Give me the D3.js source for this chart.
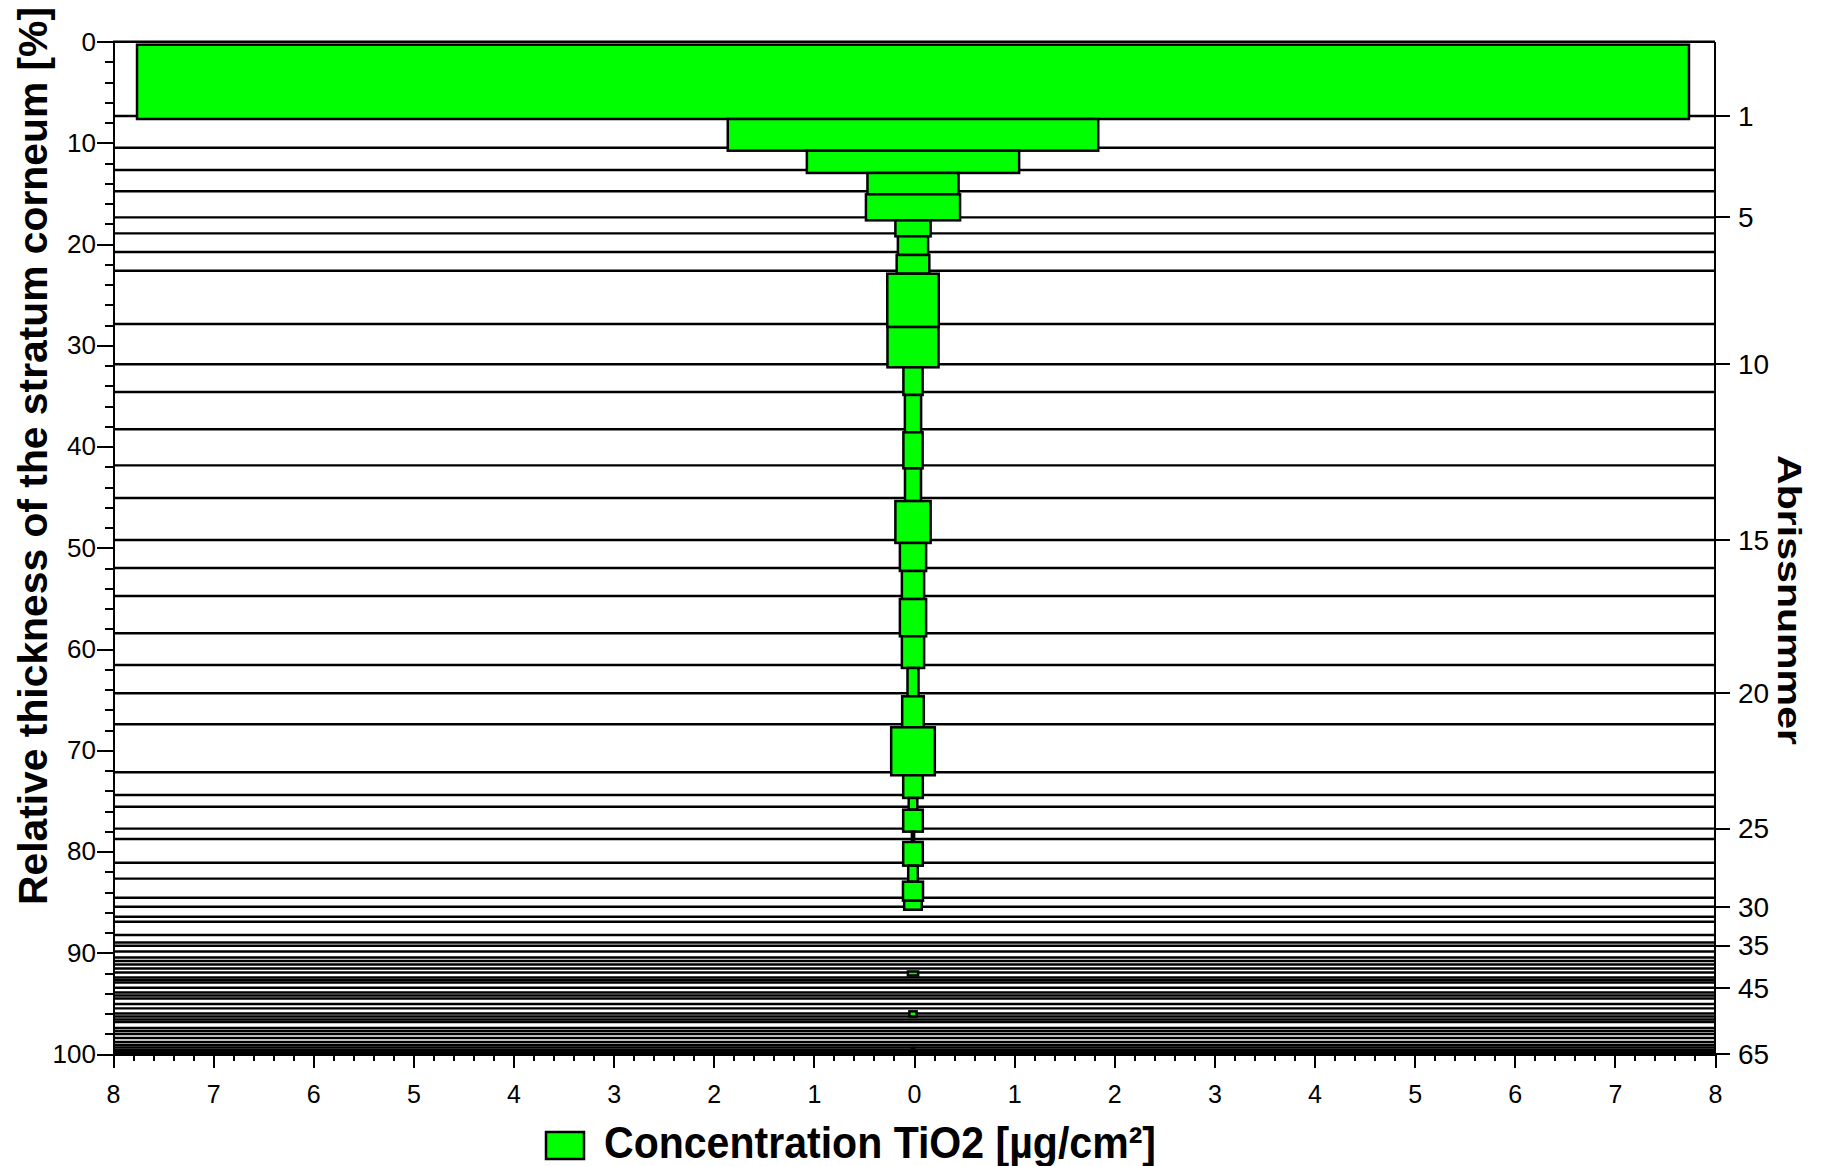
<!DOCTYPE html>
<html>
<head>
<meta charset="utf-8">
<script src="https://cdn.jsdelivr.net/npm/d3@7"></script>
<style>
    body { margin: 0; background: #fff; }
    text { font-family: "Liberation Sans", Arial, sans-serif; fill: #000; }
</style>
</head>
<body>
<div id="chart"></div>
<script>
(function () {
    // cumulative relative thickness (%) at the end of each tape strip
    var stripEnd = [
        7.34, 10.47, 12.67, 14.78, 17.35, 18.93, 20.77, 22.62, 27.89, 31.87,
        34.60, 38.29, 41.85, 45.08, 49.22, 51.99, 54.76, 58.44, 61.57, 64.37,
        67.43, 72.17, 74.41, 75.57, 77.74, 78.76, 81.10, 82.68, 84.56, 85.45,
        86.44, 86.93, 88.25, 88.99, 89.30, 89.87, 90.47, 90.81, 91.16, 91.55,
        91.95, 92.44, 92.69, 92.94, 93.45, 93.92, 94.22, 94.52, 95.06, 95.49,
        96.00, 96.30, 96.59, 96.84, 97.43, 97.73, 98.02, 98.42, 98.81, 99.11,
        99.36, 99.60, 99.80, 99.93, 100
    ];
    // TiO2 concentration per strip (ug/cm2)
    var concentration = [
        7.75, 1.85, 1.06, 0.455, 0.47, 0.176, 0.151, 0.163, 0.257, 0.255,
        0.096, 0.081, 0.096, 0.080, 0.176, 0.131, 0.111, 0.131, 0.111, 0.055,
        0.108, 0.218, 0.098, 0.043, 0.098, 0.011, 0.098, 0.048, 0.100, 0.088,
        0, 0, 0, 0, 0, 0, 0, 0, 0, 0,
        0.051, 0, 0, 0, 0, 0, 0, 0, 0, 0,
        0.036, 0, 0, 0, 0, 0, 0, 0, 0, 0,
        0.010, 0, 0, 0, 0
    ];
    var stripTicks = [1, 5, 10, 15, 20, 25, 30, 35, 45, 65];
    var depthTicks = [0, 10, 20, 30, 40, 50, 60, 70, 80, 90, 100];
    var concTicks = [-8, -7, -6, -5, -4, -3, -2, -1, 0, 1, 2, 3, 4, 5, 6, 7, 8];

    var width = 1821, height = 1166;
    var margin = {top: 41.7, right: 106, bottom: 112, left: 113};
    var green = "#00ff00";

    var svg = d3.select("#chart").append("svg")
        .attr("width", width)
        .attr("height", height);

    var x = d3.scaleLinear().domain([-8, 8]).range([margin.left, width - margin.right]);
    var y = d3.scaleLinear().domain([0, 100]).range([margin.top, height - margin.bottom]);

    var strips = stripEnd.map(function (e, i) {
        return {n: i + 1, start: i === 0 ? 0 : stripEnd[i - 1], end: e, c: concentration[i]};
    });

    // strip boundary lines
    svg.append("g")
        .selectAll("line")
        .data([0].concat(stripEnd))
        .enter().append("line")
        .attr("x1", x(-8)).attr("x2", x(8))
        .attr("y1", function (d) { return y(d); })
        .attr("y2", function (d) { return y(d); })
        .attr("stroke", "#000")
        .attr("stroke-width", 2.4);

    // bars, mirrored around zero
    svg.append("g")
        .attr("transform", "translate(-1,3)")
        .selectAll("rect")
        .data(strips.filter(function (d) { return d.c > 0; }))
        .enter().append("rect")
        .attr("x", function (d) { return x(-d.c); })
        .attr("width", function (d) { return x(d.c) - x(-d.c); })
        .attr("y", function (d) { return y(d.start); })
        .attr("height", function (d) { return y(d.end) - y(d.start); })
        .attr("fill", green)
        .attr("stroke", "#000")
        .attr("stroke-width", 2.5);

    function styleAxis(g, size) {
        g.attr("shape-rendering", "crispEdges");
        g.selectAll(".domain").attr("stroke-width", 2);
        g.selectAll(".tick line").attr("stroke-width", 2);
        g.selectAll("text").style("font-size", size + "px");
    }

    // left axis
    var minorDepth = d3.range(0, 101, 2).filter(function (d) { return d % 10 !== 0; });
    svg.append("g")
        .attr("transform", "translate(" + margin.left + ",0)")
        .call(d3.axisLeft(y).tickValues(minorDepth).tickSize(8).tickSizeOuter(0).tickFormat(""))
        .call(styleAxis, 26);
    svg.append("g")
        .attr("transform", "translate(" + margin.left + ",0)")
        .call(d3.axisLeft(y).tickValues(depthTicks).tickSize(16).tickPadding(1).tickSizeOuter(0))
        .call(styleAxis, 26);

    // bottom axis
    var minorConc = d3.range(-40, 41, 1).filter(function (d) { return d % 5 !== 0; })
        .map(function (d) { return d / 5; });
    svg.append("g")
        .attr("transform", "translate(0," + (height - margin.bottom) + ")")
        .call(d3.axisBottom(x).tickValues(minorConc).tickSize(7).tickSizeOuter(0).tickFormat(""))
        .call(styleAxis, 25);
    svg.append("g")
        .attr("transform", "translate(0," + (height - margin.bottom) + ")")
        .call(d3.axisBottom(x).tickValues(concTicks).tickSize(14).tickPadding(17).tickSizeOuter(0)
            .tickFormat(function (d) { return Math.abs(d); }))
        .call(styleAxis, 25);

    // right axis: strip number at its end depth
    var yStrip = function (n) { return y(stripEnd[n - 1]); };
    var right = svg.append("g")
        .attr("transform", "translate(" + (width - margin.right) + ",0)")
        .attr("shape-rendering", "crispEdges");
    right.append("line")
        .attr("x1", 0).attr("x2", 0)
        .attr("y1", y(0)).attr("y2", y(100))
        .attr("stroke", "#000").attr("stroke-width", 2);
    var rt = right.selectAll(".rtick")
        .data(stripTicks)
        .enter().append("g")
        .attr("class", "rtick")
        .attr("transform", function (d) { return "translate(0," + yStrip(d) + ")"; });
    rt.append("line")
        .attr("x2", 15)
        .attr("stroke", "#000").attr("stroke-width", 2);
    rt.append("text")
        .attr("x", 23)
        .attr("dy", "0.35em")
        .style("font-size", "28px")
        .text(function (d) { return d; });

    // axis titles
    svg.append("text")
        .attr("transform", "translate(46.7,456) rotate(-90)")
        .attr("text-anchor", "middle")
        .attr("textLength", 898)
        .attr("lengthAdjust", "spacingAndGlyphs")
        .style("font-size", "41px")
        .style("font-weight", "bold")
        .text("Relative thickness of the stratum corneum [%]");

    svg.append("text")
        .attr("transform", "translate(1778,600) rotate(90)")
        .attr("text-anchor", "middle")
        .attr("textLength", 290)
        .attr("lengthAdjust", "spacingAndGlyphs")
        .style("font-size", "33px")
        .style("font-weight", "bold")
        .text("Abrissnummer");

    // legend
    var legend = svg.append("g").attr("transform", "translate(546,1132)");
    legend.append("rect")
        .attr("width", 38).attr("height", 27)
        .attr("fill", green)
        .attr("stroke", "#000").attr("stroke-width", 2.5);
    legend.append("text")
        .attr("x", 58).attr("y", 26)
        .attr("textLength", 552)
        .attr("lengthAdjust", "spacingAndGlyphs")
        .style("font-size", "44px")
        .style("font-weight", "bold")
        .text("Concentration TiO2 [µg/cm²]");
})();
</script>
</body>
</html>
